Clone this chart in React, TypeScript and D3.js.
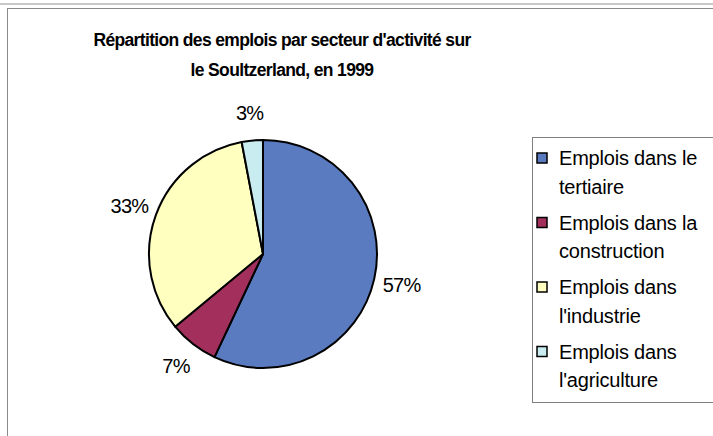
import React from "react";
import * as d3 from "d3";

const categories = [
  "Emplois dans le tertiaire",
  "Emplois dans la construction",
  "Emplois dans l'industrie",
  "Emplois dans l'agriculture",
];
const values = [57, 7, 33, 3];
const pctLabels = ["57%", "7%", "33%", "3%"];
const legendLines = [
  ["Emplois dans le", "tertiaire"],
  ["Emplois dans la", "construction"],
  ["Emplois dans", "l'industrie"],
  ["Emplois dans", "l'agriculture"],
];
const colors = ["#5B7BC0", "#A3305C", "#FFFFC0", "#C8ECF0"];
const titleLines = [
  "Répartition des emplois par secteur d'activité sur",
  "le Soultzerland, en 1999",
];

export default function App() {
  const W = 713, H = 436;
  const cx = 263, cy = 254, r = 114;
  const pie = d3.pie<number>().sort(null).value((d) => d)(values);
  const arc = d3.arc<d3.PieArcDatum<number>>().innerRadius(0).outerRadius(r);
  const labelArc = d3.arc<d3.PieArcDatum<number>>().innerRadius(r + 28).outerRadius(r + 28);
  const font = "'Liberation Sans', Arial, sans-serif";
  return (
    <svg width={W} height={H} style={{ position: "absolute", left: 0, top: 0, background: "#fff" }}>
      <rect x={0} y={0} width={W} height={H} fill="#fff" />
      <line x1={0} y1={4} x2={W} y2={4} stroke="#c8c8c8" strokeWidth={2} />
      <rect x={7.5} y={8.5} width={W} height={H} fill="#fff" stroke="#8a8a8a" strokeWidth={1} />
      {titleLines.map((t, i) => (
        <text key={i} x={282} y={46 + i * 30} textAnchor="middle" fontFamily={font} fontWeight="bold" fontSize={17.5} letterSpacing={-0.65} fill="#000">
          {t}
        </text>
      ))}
      <g transform={`translate(${cx},${cy})`}>
        {pie.map((d, i) => (
          <path key={i} d={arc(d) || ""} fill={colors[i]} stroke="#000" strokeWidth={2} strokeLinejoin="round" />
        ))}
        {pie.map((d, i) => {
          const [x, y] = labelArc.centroid(d);
          return (
            <text key={i} x={x} y={y} textAnchor="middle" dominantBaseline="central" fontFamily={font} fontSize={20} letterSpacing={-0.8} fill="#000">
              {pctLabels[i]}
            </text>
          );
        })}
      </g>
      <rect x={532.5} y={137.5} width={200} height={265} fill="#fff" stroke="#808080" strokeWidth={1} />
      {categories.map((c, i) => {
        const y0 = 158 + i * 64.5;
        return (
          <g key={c}>
            <rect x={537} y={y0 - 5} width={10} height={10} fill={colors[i]} stroke="#000" strokeWidth={1.5} />
            {legendLines[i].map((t, j) => (
              <text key={j} x={559} y={y0 + j * 28.5} dominantBaseline="central" fontFamily={font} fontSize={20} letterSpacing={-0.2} fill="#000">
                {t}
              </text>
            ))}
          </g>
        );
      })}
    </svg>
  );
}
